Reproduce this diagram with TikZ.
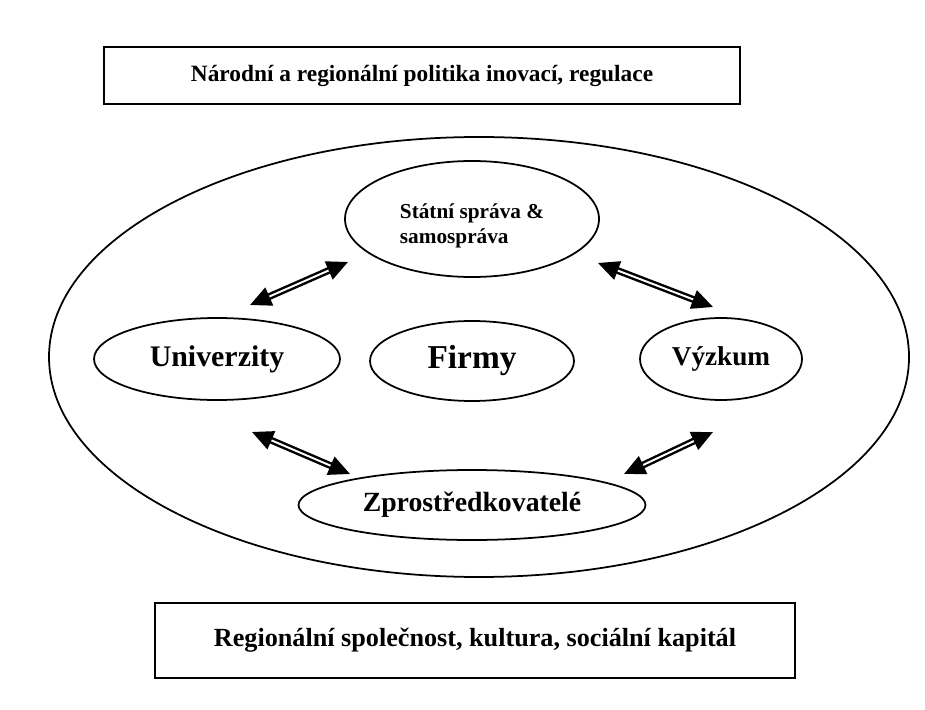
\documentclass[tikz,border=0pt]{standalone}
\usepackage{fontspec}
\setmainfont{Liberation Serif}
\usetikzlibrary{arrows.meta,shapes.geometric}
\tikzset{
  frame/.style={draw,line width=1pt,font=\fontsize{13.3}{16}\selectfont\bfseries},
  oval/.style={draw,ellipse,line width=1pt,inner sep=0pt,font=\fontsize{15.8}{19}\selectfont\bfseries},
  twoway/.style={{Triangle[length=12pt,width=11pt]}-{Triangle[length=12pt,width=11pt]},
    double,double distance=1.1pt,line width=1.4pt}}
\begin{document}
\begin{tikzpicture}[x=0.02cm,y=-0.02cm]
  \useasboundingbox (0,0) rectangle (925,709);
  % outer frames
  \node[frame,minimum width=636*0.02cm,minimum height=57*0.02cm] (policy) at (422,75.5) {Národní a regionální politika inovací, regulace};
  \node[frame,minimum width=640*0.02cm,minimum height=75*0.02cm,font=\fontsize{14.9}{18}\selectfont\bfseries] (society) at (475,640.5) {Regionální společnost, kultura, sociální kapitál};
  % region
  \node[oval,minimum width=860*0.02cm,minimum height=440*0.02cm] (region) at (479,357) {};
  % actors
  \node[oval,minimum width=254*0.02cm,minimum height=116*0.02cm,align=left,font=\fontsize{12.1}{14}\selectfont\bfseries] (state) at (472,219) {\rule{0pt}{16pt}Státní správa \&\\samospráva};
  \node[oval,minimum width=246*0.02cm,minimum height=82*0.02cm,font=\fontsize{17}{20}\selectfont\bfseries] (uni) at (217,359) {Univerzity};
  \node[oval,minimum width=204*0.02cm,minimum height=80*0.02cm,font=\fontsize{19}{22}\selectfont\bfseries] (firms) at (472,361) {Firmy};
  \node[oval,minimum width=162*0.02cm,minimum height=82*0.02cm,font=\fontsize{15.5}{18}\selectfont\bfseries] (research) at (721,359) {Výzkum};
  \node[oval,minimum width=347*0.02cm,minimum height=70*0.02cm] (broker) at (472,505) {Zprostředkovatelé};
  % arrow ends
  \coordinate (ul) at (250,305); \coordinate (su) at (348,262);
  \coordinate (sr) at (598,263); \coordinate (rs) at (713,307);
  \coordinate (ub) at (252,432); \coordinate (bu) at (350,474);
  \coordinate (br) at (624,474); \coordinate (rb) at (713,432);
  \draw[twoway] (ul) -- (su);
  \draw[twoway] (sr) -- (rs);
  \draw[twoway] (ub) -- (bu);
  \draw[twoway] (br) -- (rb);
\end{tikzpicture}
\end{document}
